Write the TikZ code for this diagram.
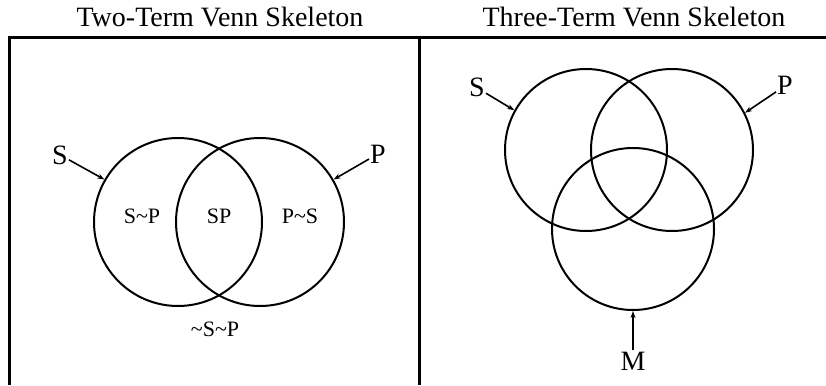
\documentclass[tikz,border=0pt]{standalone}
\usepackage{fontspec}
\setmainfont{Liberation Serif}
\usetikzlibrary{arrows.meta}
\begin{document}
\begin{tikzpicture}[x=1pt, y=-1pt,
    venn/.style={circle, draw, line width=2pt, minimum size=#1, inner sep=0pt},
    title/.style={font=\fontsize{28}{30}\selectfont, anchor=base},
    term/.style={font=\fontsize{28}{30}\selectfont, anchor=base, inner sep=1pt},
    region/.style={font=\fontsize{22}{24}\selectfont, anchor=base},
    pointer/.style={-{Stealth[length=7pt,width=5pt]}, line width=1.6pt}]
    \useasboundingbox (0,0) rectangle (826,385);

    % Frames
    \draw[line width=3pt] (9,385) -- (9,38) -- (826,38);
    \draw[line width=3pt] (419,38) -- (419,385);

    % Titles
    \node[title] (twotitle) at (220,27) {Two-Term Venn Skeleton};
    \node[title] (threetitle) at (634,27) {Three-Term Venn Skeleton};

    % Two terms
    \node[venn=168pt] (S2) at (178,222) {};
    \node[venn=168pt] (P2) at (260,222) {};
    \node[term] (S2lbl) at (60,164) {S};
    \node[term] (P2lbl) at (378,163) {P};
    \draw[pointer] (S2lbl) -- (S2.150);
    \draw[pointer] (P2lbl) -- (P2.30);
    \node[region] (SnotP) at (142,223) {S\textasciitilde P};
    \node[region] (SP) at (219,223) {SP};
    \node[region] (PnotS) at (300,223) {P\textasciitilde S};
    \node[region] (neither) at (215,336) {\textasciitilde S\textasciitilde P};

    % Three terms
    \node[venn=162pt] (S3) at (586,150) {};
    \node[venn=162pt] (P3) at (672,150) {};
    \node[venn=162pt] (M3) at (633,229) {};
    \node[term] (S3lbl) at (477,97) {S};
    \node[term] (P3lbl) at (785,95) {P};
    \node[term] (M3lbl) at (633,370) {M};
    \draw[pointer] (S3lbl) -- (S3.151);
    \draw[pointer] (P3lbl) -- (P3.27);
    \draw[pointer] (M3lbl) -- (M3.south);
\end{tikzpicture}
\end{document}
